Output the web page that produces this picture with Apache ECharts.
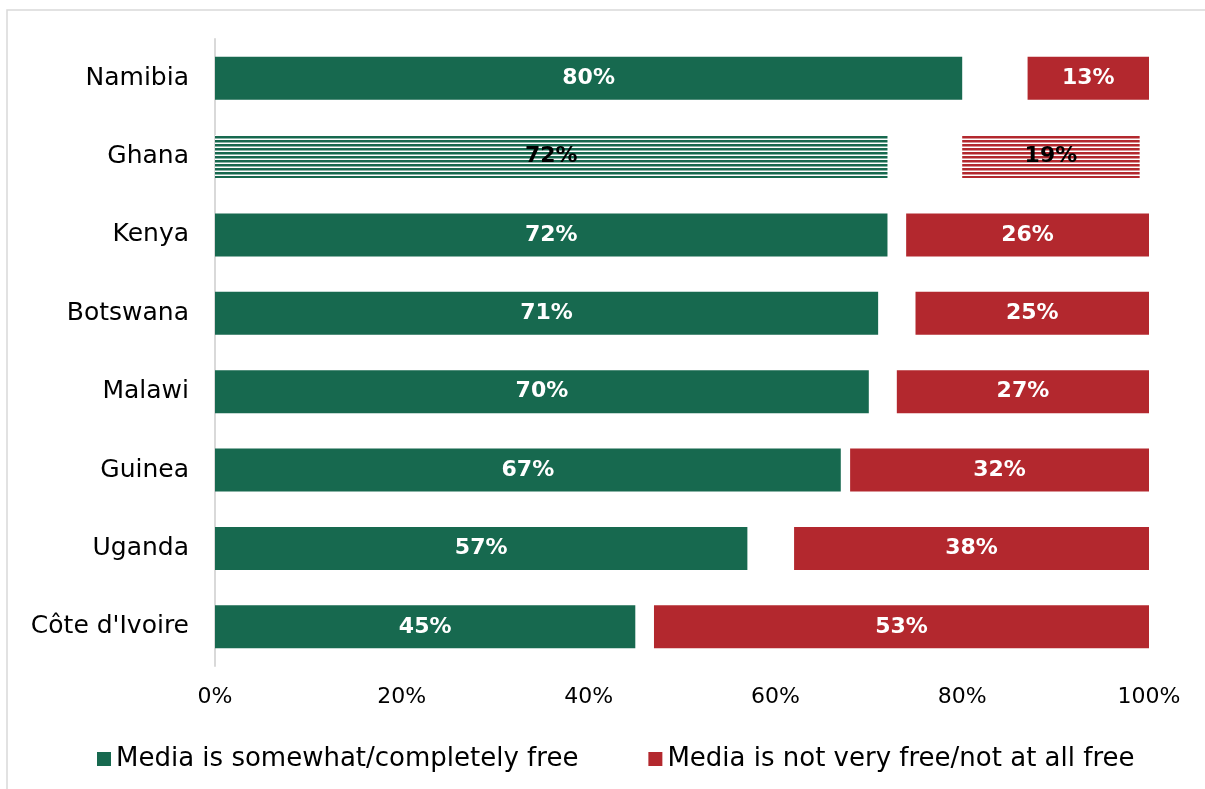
<!DOCTYPE html>
<html>
<head>
<meta charset="utf-8">
<script src="https://cdn.jsdelivr.net/npm/echarts@6/dist/echarts.min.js"></script>
<style>
html,body{margin:0;padding:0;background:#fff;}
#c{width:1205px;height:789px;}
</style>
</head>
<body>
<div id="c"></div>
<script>
var categories = ['Namibia', 'Ghana', 'Kenya', 'Botswana', 'Malawi', 'Guinea', 'Uganda', "Côte d'Ivoire"];
var freeValues = [80, 72, 72, 71, 70, 67, 57, 45];
var dontKnowValues = [7, 8, 2, 4, 3, 1, 5, 2];
var notFreeValues = [13, 19, 26, 25, 27, 32, 38, 53];
var xTicks = [0, 20, 40, 60, 80, 100];
var highlighted = 'Ghana';

var GREEN = '#17694F';
var RED = '#B3282E';
var FONT = 'DejaVu Sans';

function stripe(color) {
  var cv = document.createElement('canvas');
  cv.width = 8; cv.height = 4;
  var ctx = cv.getContext('2d');
  ctx.fillStyle = '#ffffff';
  ctx.fillRect(0, 0, 8, 4);
  ctx.fillStyle = color;
  ctx.fillRect(0, 0, 8, 2.5);
  return { image: cv, repeat: 'repeat' };
}

function buildData(values, color) {
  return values.map(function (v, i) {
    if (categories[i] === highlighted) {
      return {
        value: v,
        itemStyle: { color: stripe(color) },
        label: { color: '#000000' }
      };
    }
    return v;
  });
}

var labelStyle = {
  show: true,
  position: 'inside',
  formatter: '{c}%',
  color: '#ffffff',
  fontFamily: FONT,
  fontWeight: 'bold',
  fontSize: 22,
  textBorderWidth: 0
};

var chart = echarts.init(document.getElementById('c'));
chart.setOption({
  animation: false,
  backgroundColor: '#ffffff',
  graphic: [{
    type: 'rect',
    shape: { x: 7, y: 10, width: 1210, height: 790 },
    style: { fill: 'none', stroke: '#d9d9d9', lineWidth: 1.5 },
    silent: true,
    z: -1
  }],
  grid: { left: 215, right: 56, top: 39, bottom: 123, containLabel: false },
  xAxis: {
    type: 'value',
    min: 0, max: 100, interval: 20,
    axisLine: { show: false },
    axisTick: { show: false },
    splitLine: { show: false },
    axisLabel: {
      formatter: function (v) { return xTicks.indexOf(v) >= 0 ? v + '%' : ''; },
      color: '#000000', fontFamily: FONT, fontSize: 22, margin: 20
    }
  },
  yAxis: {
    type: 'category',
    data: categories,
    inverse: true,
    axisLine: { show: true, lineStyle: { color: '#d9d9d9', width: 2 } },
    axisTick: { show: false },
    axisLabel: { color: '#000000', fontFamily: FONT, fontSize: 25, margin: 26 }
  },
  legend: {
    data: ['Media is somewhat/completely free', 'Media is not very free/not at all free'],
    left: 92, top: 741,
    itemWidth: 14, itemHeight: 14, itemGap: 70,
    icon: 'rect',
    textStyle: { color: '#000000', fontFamily: FONT, fontSize: 26 }
  },
  series: [
    {
      name: 'Media is somewhat/completely free',
      type: 'bar', stack: 'total', barWidth: 43,
      itemStyle: { color: GREEN },
      label: labelStyle,
      data: buildData(freeValues, GREEN)
    },
    {
      name: "Don't know",
      type: 'bar', stack: 'total', barWidth: 43,
      silent: true,
      itemStyle: { color: 'rgba(0,0,0,0)' },
      label: { show: false },
      data: dontKnowValues
    },
    {
      name: 'Media is not very free/not at all free',
      type: 'bar', stack: 'total', barWidth: 43,
      itemStyle: { color: RED },
      label: labelStyle,
      data: buildData(notFreeValues, RED)
    }
  ]
});
</script>
</body>
</html>
